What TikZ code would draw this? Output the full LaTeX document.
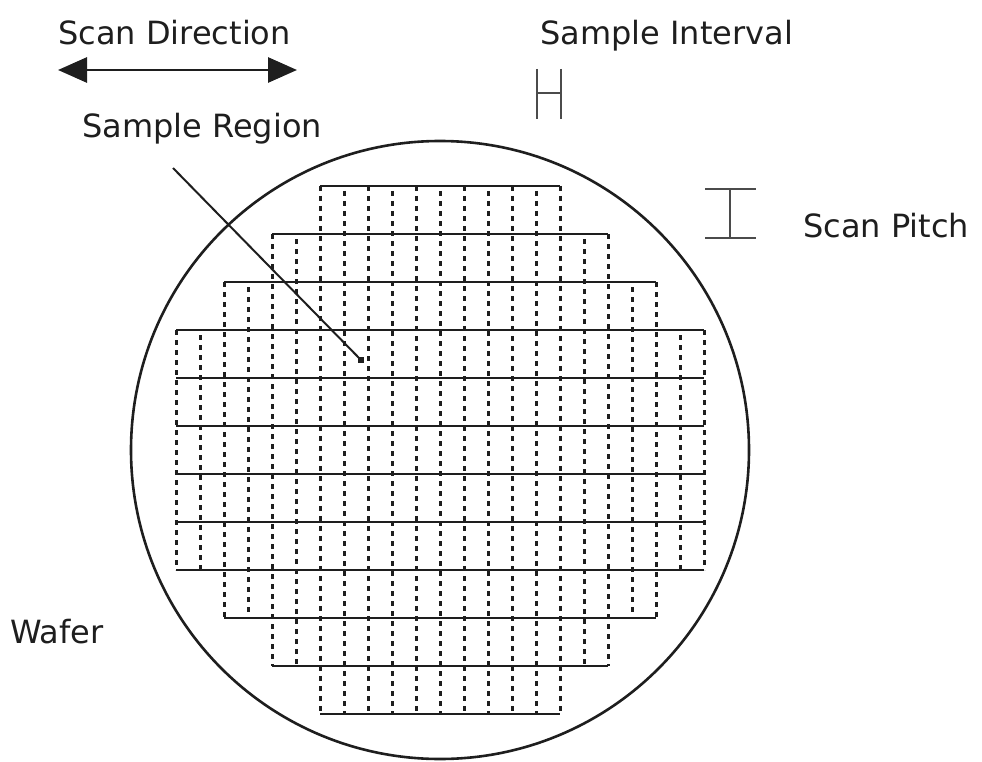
\documentclass[tikz,border=0pt]{standalone}
\usepackage{fontspec}
\setmainfont{DejaVu Sans}
\usetikzlibrary{arrows.meta,calc}
\definecolor{ink}{RGB}{30,30,30}

\begin{document}
\begin{tikzpicture}[x=1pt,y=-1pt,
    lbl/.style={inner sep=0pt,anchor=base west,text=ink,font=\fontsize{32}{38}\selectfont},
    scanline/.style={line width=2.6pt,ink},
    dcol/.style={line width=3pt,ink,dash pattern=on 5pt off 5pt},
    tickmark/.style={line width=2.6pt,ink!80}]
  \useasboundingbox (0,0) rectangle (982,762);
  % labels
  \node[lbl] (sdir) at (58,45){Scan Direction};
  \node[lbl] (sint) at (540,45){Sample Interval};
  \node[lbl] (sreg) at (82,138){Sample Region};
  \node[lbl] (spit) at (803,237){Scan Pitch};
  \node[lbl] (waf) at (10,643){Wafer};
  % scan direction
  \coordinate (dl) at (58,70); \coordinate (dr) at (297,70);
  \draw[line width=2.8pt,ink,{Triangle[length=29pt,width=25pt]}-{Triangle[length=29pt,width=25pt]}] (dl) -- (dr);
  % interval and pitch marks
  \draw[tickmark] (537,69) -- (537,119) (561,69) -- (561,119) (537,93) -- (561,93);
  \draw[tickmark] (705,189) -- (756,189) (705,238) -- (756,238) (730,189) -- (730,238);
  % wafer
  \draw[line width=2.6pt,ink] (440,450) circle[radius=309];
  % scan rows
  \foreach \y/\xa/\xb in {186/320/560,234/272/608,282/224/656,330/176/704,378/176/704,426/176/704,
      474/176/704,522/176/704,570/176/704,618/224/656,666/272/608,714/320/560}
    \draw[scanline] (\xa,\y) -- (\xb,\y);
  % sample columns
  \foreach \x/\ya/\yb [count=\i] in {176/330/570,200/330/570,224/282/618,248/282/618,272/234/666,296/234/666,
      320/186/714,344/186/714,368/186/714,392/186/714,416/186/714,440/186/714,464/186/714,488/186/714,
      512/186/714,536/186/714,560/186/714,584/234/666,608/234/666,632/282/618,656/282/618,680/330/570,704/330/570}{
    \pgfmathsetmacro{\ph}{mod(\i,2)==1 ? 0 : 5}
    \draw[dcol,dash phase=\ph pt] (\x,\ya) -- (\x,\yb);
  }
  % pointer to a sample region
  \coordinate (rtail) at (173,168); \coordinate (rpt) at (361,360);
  \draw[line width=2pt,ink] (rtail) -- (rpt);
  \fill[ink] ($(rpt)+(-3,-3)$) rectangle ($(rpt)+(3,3)$);
\end{tikzpicture}
\end{document}
